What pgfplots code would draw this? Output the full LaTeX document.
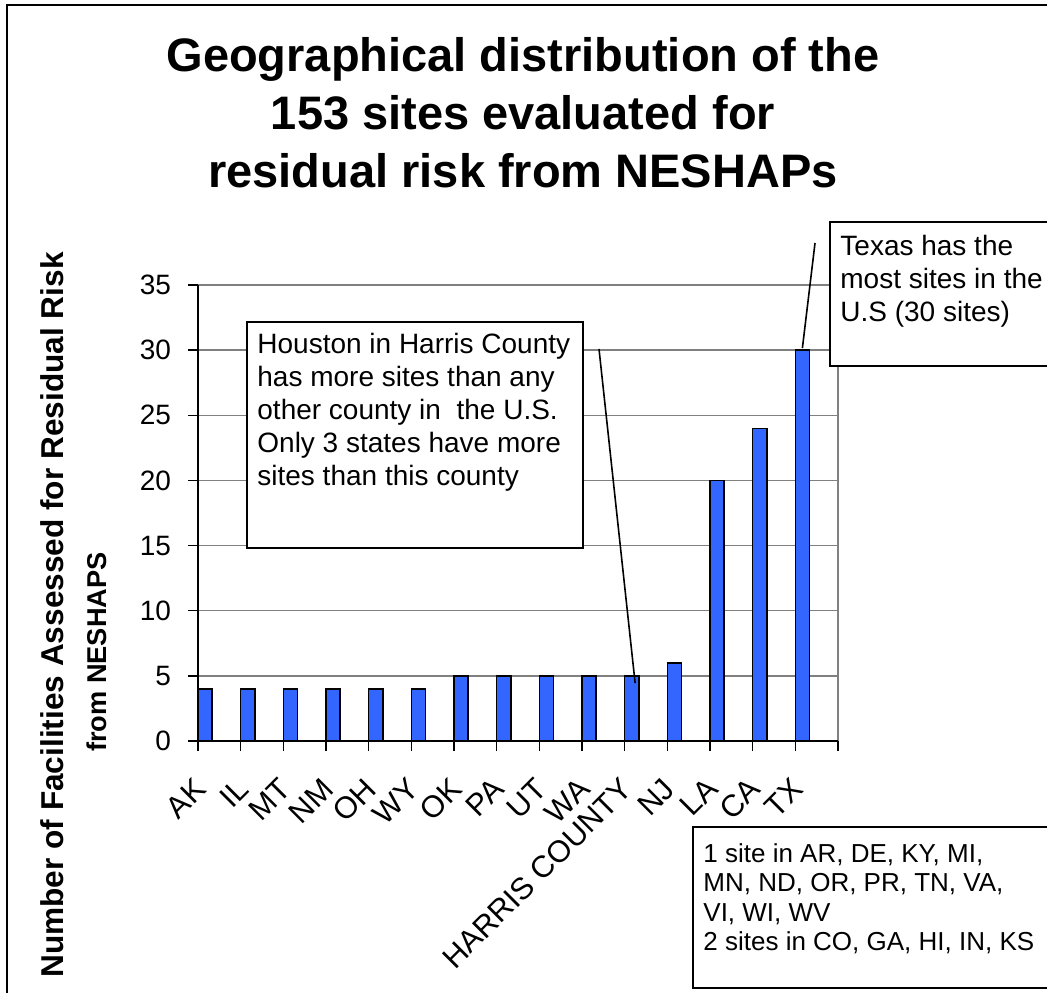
\documentclass[border=0pt]{standalone}
\usepackage{fontspec}
\setmainfont{Liberation Sans}
\usepackage{pgfplots}
\pgfplotsset{compat=1.18}
\definecolor{barblue}{RGB}{51,102,255}
\begin{document}
\begin{tikzpicture}
\begin{scope}[x=0.5pt,y=-0.5pt]
\path[use as bounding box] (0,0) rectangle (1047,992);
\end{scope}
\begin{axis}[
 at={(99pt,-370.5pt)}, anchor=south west,
 scale only axis, width=320pt, height=228pt,
 xmin=-0.165, xmax=14.835, ymin=0, ymax=35,
 axis line style={draw=none},
 ytick={0,5,...,35},
 ymajorgrids, grid style={draw=gray, line width=0.7pt},
 tick align=outside, tick pos=left,
 major tick length=5pt,
 tick style={black, line width=0.7pt},
 xtick={-0.165,0.835,1.835,2.835,3.835,4.835,5.835,6.835,7.835,8.835,9.835,10.835,11.835,12.835,13.835},
 xticklabels={AK,IL,MT,NM,OH,WY,OK,PA,UT,WA,HARRIS COUNTY,NJ,LA,CA,TX},
 extra x ticks={14.835}, extra x tick labels={},
 ticklabel style={font=\fontsize{14}{16}\selectfont},
 xticklabel style={font=\fontsize{15.3}{17}\selectfont, xshift=3.5pt, yshift=-14pt, rotate=45, anchor=east},
 yticklabel style={xshift=-5pt},
 /pgf/number format/assume math mode=true,
 clip=false,
]
\addplot[ybar, bar width=0.33, fill=barblue, draw=black, line width=0.75pt] coordinates {
(0,4) (1,4) (2,4) (3,4) (4,4) (5,4) (6,5) (7,5) (8,5) (9,5) (10,5) (11,6) (12,20) (13,24) (14,30)};
\draw[gray, line width=0.7pt] (rel axis cs:1,0) -- (rel axis cs:1,1);
\draw[black, line width=0.8pt] (rel axis cs:0,1) -- (rel axis cs:0,0) -- (rel axis cs:1,0);
\coordinate (hc) at (axis cs:10.08,4.45);
\coordinate (tx) at (axis cs:14,30.15);
\end{axis}
\begin{scope}[x=0.5pt,y=-0.5pt]
\clip (0,0) rectangle (1047,992);
\draw[line width=1pt] (7,5) rectangle (1100,1100);
\node[anchor=north, inner sep=0pt, align=center, font=\fontsize{23.5}{29}\selectfont\bfseries] at (523,37)
 {Geographical distribution of the\\153 sites evaluated for\\residual risk from NESHAPs};
\node[rotate=90, inner sep=0pt, font=\fontsize{15.8}{18}\selectfont\bfseries] at (52,615)
 {Number of Facilities Assessed for Residual Risk};
\node[rotate=90, inner sep=0pt, font=\fontsize{13.6}{16}\selectfont\bfseries] at (97,652)
 {from NESHAPS};
% Houston box
\draw[line width=1.1pt, fill=white] (247,322) rectangle (583,548);
\node[anchor=north west, inner sep=0pt, align=left, font=\fontsize{14}{16.5}\selectfont] at (257,333)
 {Houston in Harris County\\has more sites than any\\other county in\ \ the U.S.\\Only 3 states have more\\sites than this county};
\draw[line width=0.8pt] (599,349) -- (hc);
% Texas box
\draw[line width=1.1pt, fill=white] (830,222) rectangle (1100,366);
\node[anchor=north west, inner sep=0pt, align=left, font=\fontsize{14}{16.5}\selectfont] at (840,235)
 {Texas has the\\most sites in the\\U.S (30 sites)};
\draw[line width=0.8pt] (815,243) -- (tx);
% bottom box
\draw[line width=1.1pt, fill=white] (693,827) rectangle (1100,988);
\node[anchor=north west, inner sep=0pt, align=left, font=\fontsize{13}{14.75}\selectfont] at (703,843)
 {1 site in AR, DE, KY, MI,\\MN, ND, OR, PR, TN, VA,\\VI, WI, WV\\2 sites in CO, GA, HI, IN, KS};
\end{scope}
\end{tikzpicture}
\end{document}
